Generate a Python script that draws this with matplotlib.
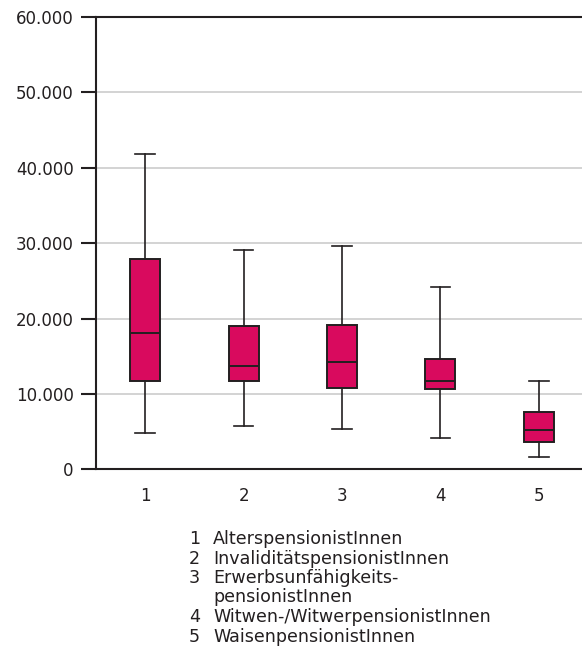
import matplotlib
matplotlib.use("Agg")
import matplotlib.pyplot as plt
from matplotlib.ticker import FuncFormatter

# Data (values in EUR)
categories = ["1", "2", "3", "4", "5"]
whisker_low = [4860, 5710, 5350, 4160, 1590]
q1 = [11730, 11730, 10760, 10620, 3590]
median = [18140, 13760, 14210, 11770, 5220]
q3 = [27890, 19070, 19160, 14690, 7650]
whisker_high = [41830, 29120, 29560, 24210, 11730]
legend_numbers = ["1", "2", "3", "", "4", "5"]
legend_names = ["AlterspensionistInnen", "InvaliditätspensionistInnen",
                "Erwerbsunfähigkeits-", "pensionistInnen",
                "Witwen-/WitwerpensionistInnen", "WaisenpensionistInnen"]
y_ticks = [0, 10000, 20000, 30000, 40000, 50000, 60000]

FILL = "#D90A5E"
EDGE = "#231F20"
GRID = "#C8C8C8"
TEXT = "#231F20"

plt.rcParams['font.family'] = ['DejaVu Sans']

fig = plt.figure(figsize=(5.82, 6.70), dpi=100)
ax = fig.add_axes([0.165, 0.2996, 0.835, 0.675])

stats = []
for i, c in enumerate(categories):
    stats.append(dict(label=c, whislo=whisker_low[i], q1=q1[i], med=median[i],
                      q3=q3[i], whishi=whisker_high[i], fliers=[]))

positions = list(range(1, len(categories) + 1))
ax.bxp(stats, positions=positions, widths=0.305, patch_artist=True,
       showfliers=False,
       boxprops=dict(facecolor=FILL, edgecolor=EDGE, linewidth=1.4),
       medianprops=dict(color=EDGE, linewidth=1.4),
       whiskerprops=dict(color=EDGE, linewidth=1.2),
       capprops=dict(color=EDGE, linewidth=1.2),
       capwidths=0.2, zorder=3)

ax.set_xlim(0.5, 5.44)
ax.set_ylim(0, 60000)
ax.set_yticks(y_ticks)
ax.yaxis.set_major_formatter(FuncFormatter(lambda v, p: f"{int(v):,}".replace(",", ".")))
for y in y_ticks[1:-1]:
    ax.axhline(y, color=GRID, linewidth=1.1, zorder=1)

for s in ["left", "bottom", "top"]:
    ax.spines[s].set_linewidth(1.5)
    ax.spines[s].set_color(EDGE)
ax.spines["right"].set_visible(False)

ax.tick_params(axis="y", length=11, width=1.5, color=EDGE, pad=5,
               labelsize=12, labelcolor=TEXT)
ax.tick_params(axis="x", length=0, pad=13, labelsize=12, labelcolor=TEXT)
ax.set_xticks(positions)
ax.set_xticklabels(categories)

W, H = 582, 670
baselines = [544, 563.5, 583, 602.5, 622, 641.5]
for num, name, yb in zip(legend_numbers, legend_names, baselines):
    if num:
        fig.text(189 / W, 1 - yb / H, num, fontsize=12.6, color=TEXT, va="baseline", ha="left")
    fig.text(213 / W, 1 - yb / H, name, fontsize=12.6, color=TEXT, va="baseline", ha="left")

fig.savefig("out.png", dpi=100)
